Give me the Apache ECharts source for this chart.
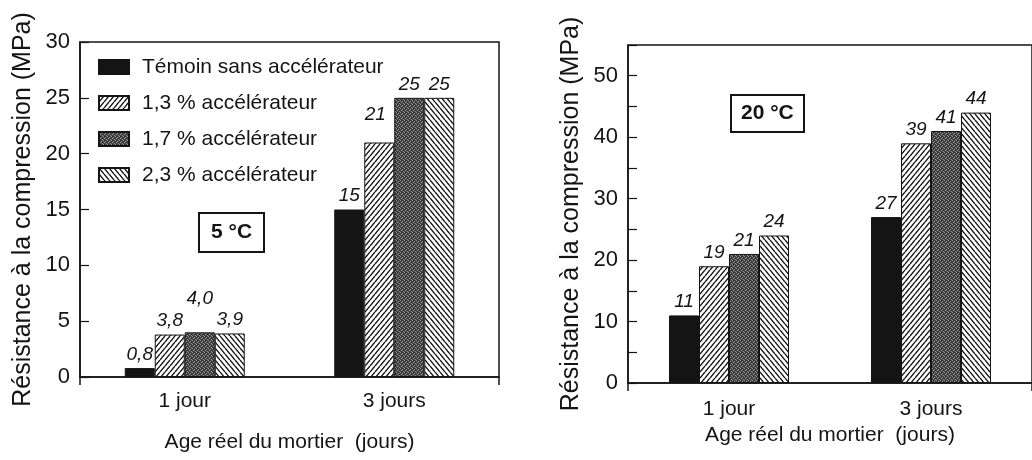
<!DOCTYPE html>
<html>
<head>
<meta charset="utf-8">
<script src="https://cdn.jsdelivr.net/npm/echarts@6/dist/echarts.min.js"></script>
<style>
  html, body { margin: 0; padding: 0; background: #fff; }
  #chart { width: 1032px; height: 460px; }
</style>
</head>
<body>
<div id="chart"></div>
<script>
// catégories (âge du mortier)
const ages = ['1 jour', '3 jours'];
const seriesNames = ['Témoin sans accélérateur', '1,3 % accélérateur', '1,7 % accélérateur', '2,3 % accélérateur'];

// 5 °C
const temoin5 = [0.8, 15];
const acc13_5 = [3.8, 21];
const acc17_5 = [4.0, 25];
const acc23_5 = [3.9, 25];

// 20 °C
const temoin20 = [11, 27];
const acc13_20 = [19, 39];
const acc17_20 = [21, 41];
const acc23_20 = [24, 44];

const FONT = '"Liberation Sans", Arial, Helvetica, sans-serif';
const INK = '#141414';

// motifs de remplissage (hachures / grisé)
function hatch(dir, w, h) {
  const c = document.createElement('canvas');
  c.width = w; c.height = h;
  const g = c.getContext('2d');
  g.fillStyle = '#fff';
  g.fillRect(0, 0, w, h);
  g.strokeStyle = INK;
  g.lineWidth = 1.4;
  g.beginPath();
  for (let k = -1; k <= 1; k++) {
    if (dir > 0) { g.moveTo(k * w, h); g.lineTo(k * w + w, 0); }
    else { g.moveTo(k * w, 0); g.lineTo(k * w + w, h); }
  }
  g.stroke();
  return { image: c, repeat: 'repeat' };
}
function stipple() {
  const c = document.createElement('canvas');
  c.width = 4; c.height = 4;
  const g = c.getContext('2d');
  g.fillStyle = '#444';
  g.fillRect(0, 0, 4, 4);
  g.fillStyle = '#999';
  [[0, 0], [2, 1], [1, 2], [3, 3]].forEach(p => g.fillRect(p[0], p[1], 1, 1));
  g.fillStyle = '#1e1e1e';
  [[1, 0], [3, 2]].forEach(p => g.fillRect(p[0], p[1], 1, 1));
  return { image: c, repeat: 'repeat' };
}
const fills = [INK, hatch(1, 5, 6), stipple(), hatch(-1, 5, 6)];

function fmt(p) {
  const v = p.value;
  return v < 10 ? v.toFixed(1).replace('.', ',') : String(v);
}

function bar(name, idx, axis, values) {
  return {
    name: name,
    type: 'bar',
    xAxisIndex: axis,
    yAxisIndex: axis,
    barWidth: 30,
    barGap: '0%',
    data: values.map((v, i) => {
      // étiquettes décalées comme dans la figure d'origine
      if (axis === 0 && idx === 2 && i === 0) return { value: v, label: { offset: [0, -20] } };
      if (axis === 0 && idx === 1 && i === 1) return { value: v, label: { offset: [-4, -14] } };
      return v;
    }),
    itemStyle: { color: fills[idx], borderColor: INK, borderWidth: 1 },
    label: {
      show: true,
      position: 'top',
      distance: 4,
      formatter: fmt,
      color: INK,
      fontFamily: FONT,
      fontStyle: 'italic',
      fontSize: 19
    }
  };
}

function xAx(gi) {
  return {
    type: 'category',
    gridIndex: gi,
    data: ages,
    axisLine: { lineStyle: { color: INK, width: 1.5 } },
    axisTick: { show: true, length: 8, lineStyle: { color: INK, width: 1.5 }, interval: (i) => i === 1 },
    axisLabel: { color: INK, fontFamily: FONT, fontSize: 21, margin: gi === 0 ? 14 : 16 },
    name: 'Age réel du mortier  (jours)',
    nameLocation: 'middle',
    nameGap: gi === 0 ? 55 : 41,
    nameTextStyle: { color: INK, fontFamily: FONT, fontSize: 21 }
  };
}

function yAx(gi, max) {
  return {
    type: 'value',
    gridIndex: gi,
    min: 0,
    max: max,
    interval: 5,
    splitLine: { show: false },
    axisLine: { show: true, lineStyle: { color: INK, width: 1.5 } },
    axisTick: { show: true, inside: true, length: 9, lineStyle: { color: INK, width: 1.2 } },
    axisLabel: {
      color: INK, fontFamily: FONT, fontSize: 22, margin: 10,
      formatter: (v) => (gi === 1 && v % 10 !== 0) ? '' : String(v)
    },
    name: 'Résistance à la compression (MPa)',
    nameLocation: 'middle',
    nameGap: 44,
    nameTextStyle: { color: INK, fontFamily: FONT, fontSize: 25 }
  };
}

const chart = echarts.init(document.getElementById('chart'), null, { renderer: 'canvas' });

const boxText = { color: INK, fontFamily: FONT, fontSize: 21, fontWeight: 'bold' };

chart.setOption({
  backgroundColor: '#fff',
  animation: false,
  title: [
    { text: '5 °C', left: 199, top: 213, padding: [9, 12], borderColor: INK, borderWidth: 2, textStyle: boxText },
    { text: '20 °C', left: 731, top: 95, padding: [8, 10], borderColor: INK, borderWidth: 2, textStyle: boxText }
  ],
  legend: {
    orient: 'vertical',
    left: 93,
    top: 51,
    icon: 'rect',
    itemWidth: 30,
    itemHeight: 14,
    itemGap: 14,
    data: seriesNames,
    textStyle: { color: INK, fontFamily: FONT, fontSize: 21, lineHeight: 22, padding: [0, 0, 0, 8] }
  },
  grid: [
    { left: 80, top: 42, width: 419, height: 335, show: true, borderColor: INK, borderWidth: 1.5 },
    { left: 628, top: 45, width: 420, height: 338, show: true, borderColor: INK, borderWidth: 1.5 }
  ],
  xAxis: [xAx(0), xAx(1)],
  yAxis: [yAx(0, 30), yAx(1, 55)],
  series: [
    bar(seriesNames[0], 0, 0, temoin5),
    bar(seriesNames[1], 1, 0, acc13_5),
    bar(seriesNames[2], 2, 0, acc17_5),
    bar(seriesNames[3], 3, 0, acc23_5),
    bar(seriesNames[0], 0, 1, temoin20),
    bar(seriesNames[1], 1, 1, acc13_20),
    bar(seriesNames[2], 2, 1, acc17_20),
    bar(seriesNames[3], 3, 1, acc23_20)
  ]
});
</script>
</body>
</html>
